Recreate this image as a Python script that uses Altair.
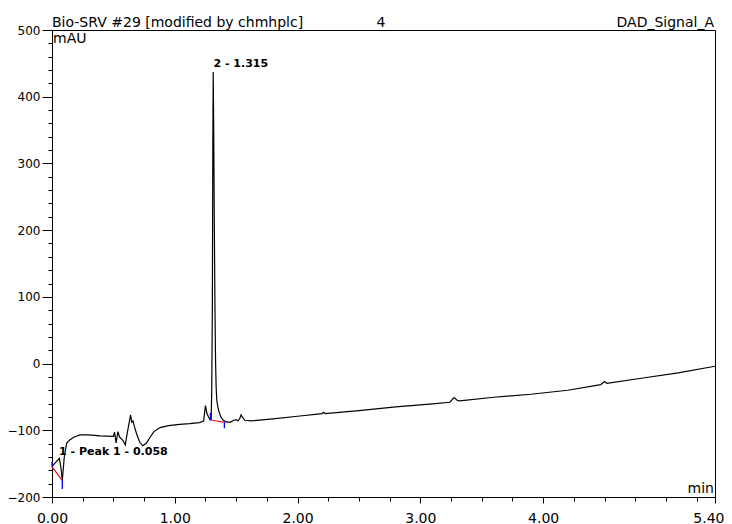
import altair as alt
import pandas as pd

# ---- chromatogram trace (time in min, signal in mAU) ----
times = [0.000, 0.030, 0.060, 0.072, 0.084, 0.100, 0.120, 0.147, 0.180, 0.228, 0.300,
         0.390, 0.500, 0.510, 0.522, 0.537, 0.550, 0.565, 0.580, 0.597, 0.612, 0.627,
         0.640, 0.650, 0.660, 0.672, 0.690, 0.715, 0.740, 0.770, 0.800, 0.830, 0.880,
         0.950, 1.040, 1.120, 1.200, 1.235, 1.250, 1.262, 1.275, 1.288, 1.296, 1.301,
         1.306, 1.310, 1.313, 1.317, 1.322, 1.327, 1.332, 1.337, 1.342, 1.350, 1.360,
         1.375, 1.395, 1.420, 1.450, 1.480, 1.500, 1.515, 1.530, 1.540, 1.550, 1.570,
         1.620, 1.800, 2.000, 2.200, 2.210, 2.225, 2.500, 2.800, 3.100, 3.240, 3.275,
         3.300, 3.320, 3.600, 3.900, 4.200, 4.470, 4.500, 4.520, 4.800, 5.100, 5.400]
signal = [-154, -148, -142, -155, -175, -140, -119, -114, -110, -107, -107,
          -108.5, -109, -103, -119, -102, -110, -113, -116, -122, -105, -90,
          -77, -88, -86, -95, -106, -118, -123, -119, -110, -102, -96,
          -93, -91, -90, -88.5, -86, -63, -75, -80, -84, -84, -40,
          80, 330, 437, 350, 210, 90, 5, -35, -55, -64, -72,
          -80, -85, -87.5, -88, -85, -84, -86, -82, -77, -80, -85,
          -86, -83, -79, -75, -73, -75, -70.5, -65, -60.5, -58, -51,
          -55, -56, -50.5, -46, -40, -31.5, -27, -29.5, -22, -14, -4]

# ---- integration baselines (red) and peak delimiters (blue) ----
base_x1 = [0.000, 1.293]
base_x2 = [0.084, 1.404]
base_y1 = [-154.5, -84.5]
base_y2 = [-175.5, -88.0]

delim_x = [0.000, 0.084, 1.290, 1.404]
delim_y1 = [-147, -175, -74, -87]
delim_y2 = [-155, -188, -85, -97]

# ---- peak labels ----
peak_text = ["1 - Peak 1 - 0.058", "2 - 1.315"]
peak_x = [0.058, 1.315]
peak_y = [-137, 444]

# ---- axis ticks ----
x_major_ticks = [0.0, 1.0, 2.0, 3.0, 4.0]
x_end_tick = [5.4]
x_minor_ticks = [0.25, 0.5, 0.75, 1.25, 1.5, 1.75, 2.25, 2.5, 2.75, 3.25, 3.5,
                 3.75, 4.25, 4.5, 4.75, 5.0, 5.25]
y_major_ticks = [-200, -100, 0, 100, 200, 300, 400, 500]
y_minor_ticks = [v for v in range(-200, 501, 20) if v % 100 != 0]

header_left = "Bio-SRV #29 [modified by chmhplc]"
header_mid = "4"
header_right = "DAD_Signal_A"
y_unit = "mAU"
x_unit = "min"

FONT = "DejaVu Sans"

trace = pd.DataFrame({"t": times, "s": signal})
base = pd.DataFrame({"x1": base_x1, "x2": base_x2, "y1": base_y1, "y2": base_y2})
delim = pd.DataFrame({"x": delim_x, "y1": delim_y1, "y2": delim_y2})
labels = pd.DataFrame({"x": peak_x, "y": peak_y, "text": peak_text})

xs = alt.Scale(domain=[0, 5.4], nice=False, zero=False)
ys = alt.Scale(domain=[-200, 500], nice=False, zero=False)

common = dict(title=None, grid=False, labelFlush=False, labelOverlap=False,
              domainColor="black", tickColor="black", labelColor="black", labelFont=FONT)

x_axis_major = alt.Axis(values=x_major_ticks, orient="bottom", format=".2f",
                        tickSize=6, labelPadding=8, labelFontSize=14, **common)
x_axis_end = alt.Axis(values=x_end_tick, orient="bottom", format=".2f", domain=False,
                      tickSize=6, labelPadding=8, labelFontSize=14, labelAlign="right",
                      labelOffset=9, **common)
y_axis_major = alt.Axis(values=y_major_ticks, orient="left", format="d",
                        tickSize=10, labelPadding=2, labelFontSize=12, **common)
x_axis_minor = alt.Axis(values=x_minor_ticks, orient="bottom", labels=False,
                        tickSize=4, domain=False, **common)
y_axis_minor = alt.Axis(values=y_minor_ticks, orient="left", labels=False,
                        tickSize=4, domain=False, **common)

line = alt.Chart(trace).mark_line(color="black", strokeWidth=1.2, clip=True).encode(
    x=alt.X("t:Q", scale=xs, axis=x_axis_major),
    y=alt.Y("s:Q", scale=ys, axis=y_axis_major),
    order="t:Q",
)

base_rules = alt.Chart(base).mark_rule(color="#ff0000", strokeWidth=1.1).encode(
    x=alt.X("x1:Q", scale=xs, axis=x_axis_end), x2="x2:Q",
    y=alt.Y("y1:Q", scale=ys, axis=None), y2="y2:Q",
)
delim_rules = alt.Chart(delim).mark_rule(color="#0000ff", strokeWidth=1.3).encode(
    x=alt.X("x:Q", scale=xs, axis=x_axis_minor),
    y=alt.Y("y1:Q", scale=ys, axis=y_axis_minor), y2="y2:Q",
)
peak_labels = alt.Chart(labels).mark_text(
    align="left", baseline="alphabetic", font=FONT, fontSize=11, fontWeight="bold", color="black"
).encode(
    x=alt.X("x:Q", scale=xs, axis=None),
    y=alt.Y("y:Q", scale=ys, axis=None),
    text="text:N",
)

def fixed_text(txt, x, y, align):
    return alt.Chart(pd.DataFrame({"v": [txt]})).mark_text(
        align=align, baseline="alphabetic", font=FONT, fontSize=14, color="black"
    ).encode(x=alt.value(x), y=alt.value(y), text="v:N")

texts = [
    fixed_text(header_left, 0, -3.5, "left"),
    fixed_text(header_mid, 329, -3.5, "center"),
    fixed_text(header_right, 662, -3.5, "right"),
    fixed_text(y_unit, 1, 13.3, "left"),
    fixed_text(x_unit, 662, 463, "right"),
]

chart = alt.layer(line, base_rules, delim_rules, peak_labels, *texts).resolve_axis(
    x="independent", y="independent"
).properties(
    width=663, height=467,
    padding={"left": 44, "top": 22, "right": 9, "bottom": 28},
    autosize=alt.AutoSizeParams(type="none"),
    background="white",
).configure(font=FONT).configure_view(stroke="black", strokeWidth=1)

chart.save("out.html", embed_options={"renderer": "svg", "actions": False})
